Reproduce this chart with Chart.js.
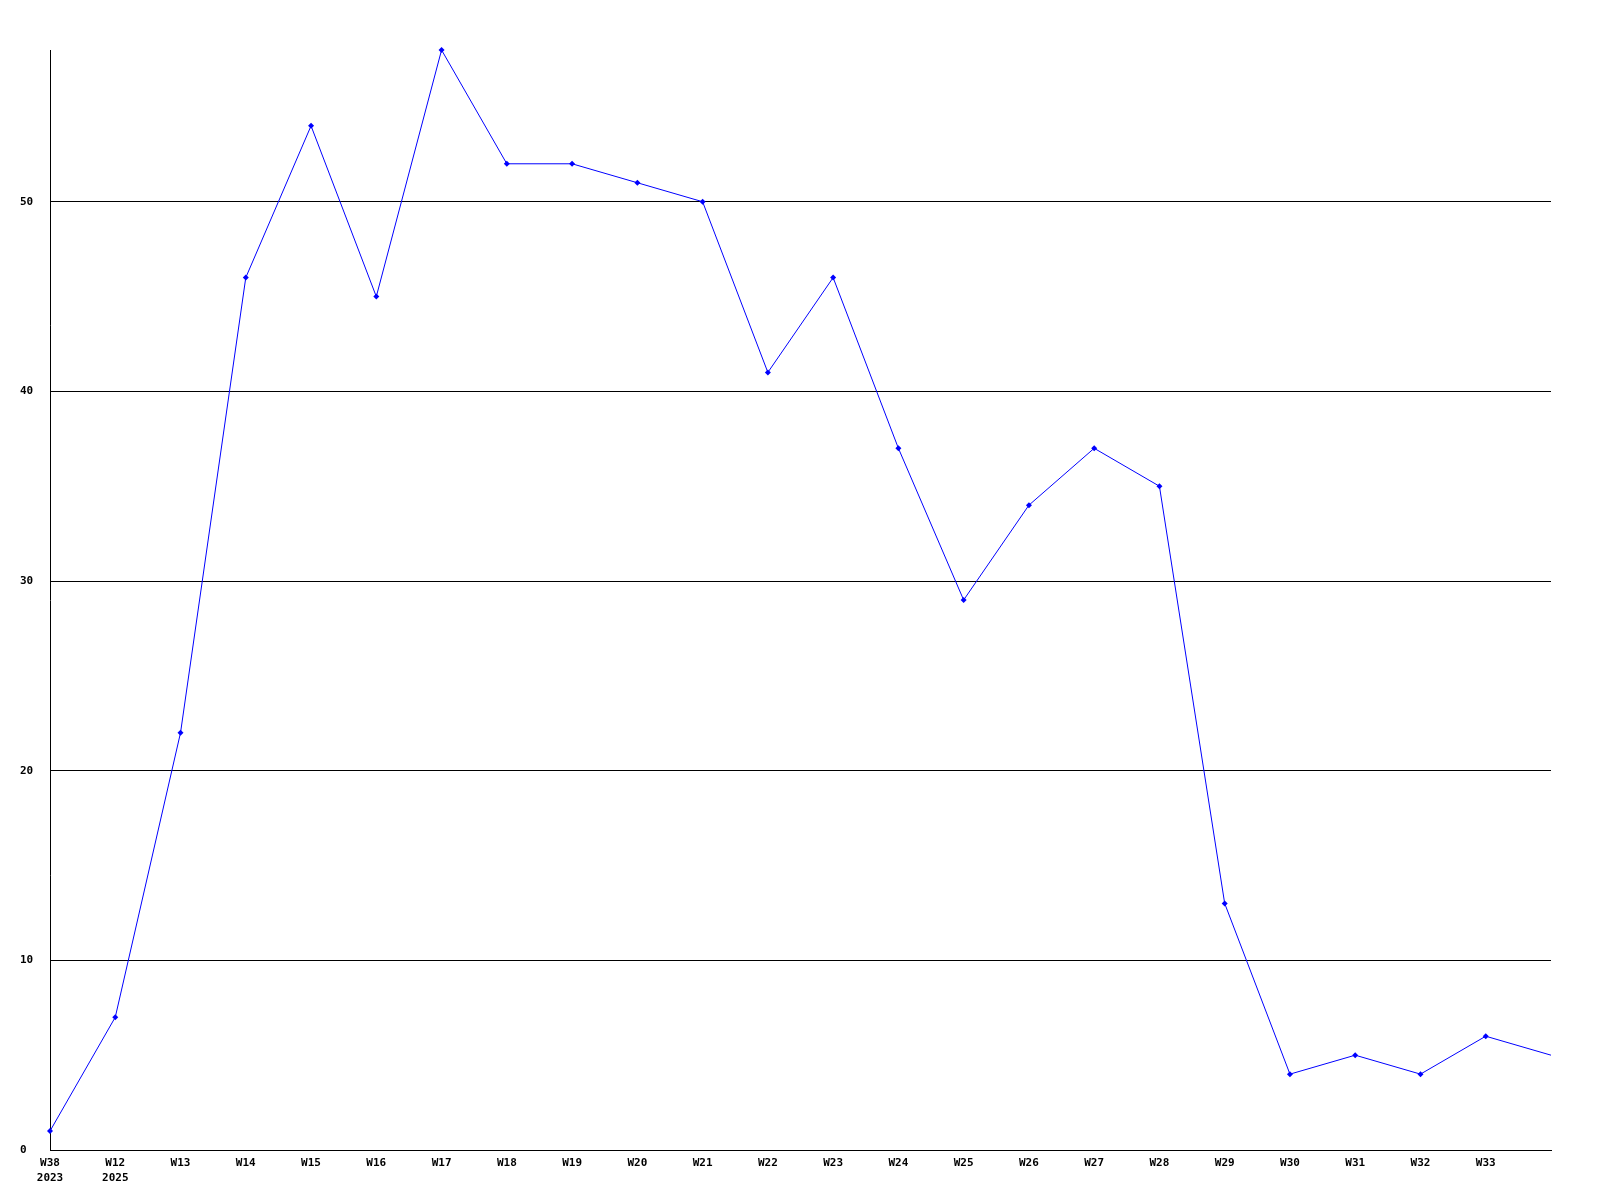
<!DOCTYPE html>
<html>
<head>
<meta charset="utf-8">
<script src="https://cdn.jsdelivr.net/npm/chart.js@4/dist/chart.umd.min.js"></script>
<style>
html,body{margin:0;padding:0;background:#fff;}
#wrap{width:1600px;height:1200px;position:relative;}
</style>
</head>
<body>
<div id="wrap"><canvas id="c" width="1600" height="1200"></canvas></div>
<script>
const categories = [["W38","2023"],["W12","2025"],"W13","W14","W15","W16","W17","W18","W19","W20","W21","W22","W23","W24","W25","W26","W27","W28","W29","W30","W31","W32","W33",""];
const values = [1,7,22,46,54,45,58,52,52,51,50,41,46,37,29,34,37,35,13,4,5,4,6,5];
const yTicks = [0,10,20,30,40,50];
const yMax = 58;

const font = {family:"'DejaVu Sans Mono', monospace", size:11, weight:'bold', lineHeight:1.35};

new Chart(document.getElementById('c'), {
  type:'line',
  data:{
    labels:categories,
    datasets:[{
      data:values,
      borderColor:'#0000ff',
      backgroundColor:'#0000ff',
      borderWidth:1,
      pointStyle:'rectRot',
      pointRadius:ctx => ctx.dataIndex === values.length - 1 ? 0 : 3,
      pointBorderWidth:0,
      tension:0,
      fill:false,
      clip:false
    }]
  },
  options:{
    responsive:false,
    animation:false,
    devicePixelRatio:1,
    layout:{padding:{left:20,top:50,right:49,bottom:0}},
    plugins:{legend:{display:false},tooltip:{enabled:false}},
    scales:{
      x:{
        offset:false,
        grid:{display:false,drawTicks:false},
        border:{display:true,color:'#000',width:1},
        ticks:{color:'#000',font:font,padding:6,maxRotation:0,autoSkip:false},
        afterFit(s){s.height=50;}
      },
      y:{
        min:0,max:yMax,
        grid:{color:'#000',lineWidth:1,drawTicks:false},
        border:{display:true,color:'#000',width:1},
        ticks:{color:'#000',font:font,crossAlign:'far',padding:0},
        afterBuildTicks(s){s.ticks = yTicks.map(v=>({value:v}));},
        afterFit(s){s.width=30;}
      }
    }
  }
});
</script>
</body>
</html>
